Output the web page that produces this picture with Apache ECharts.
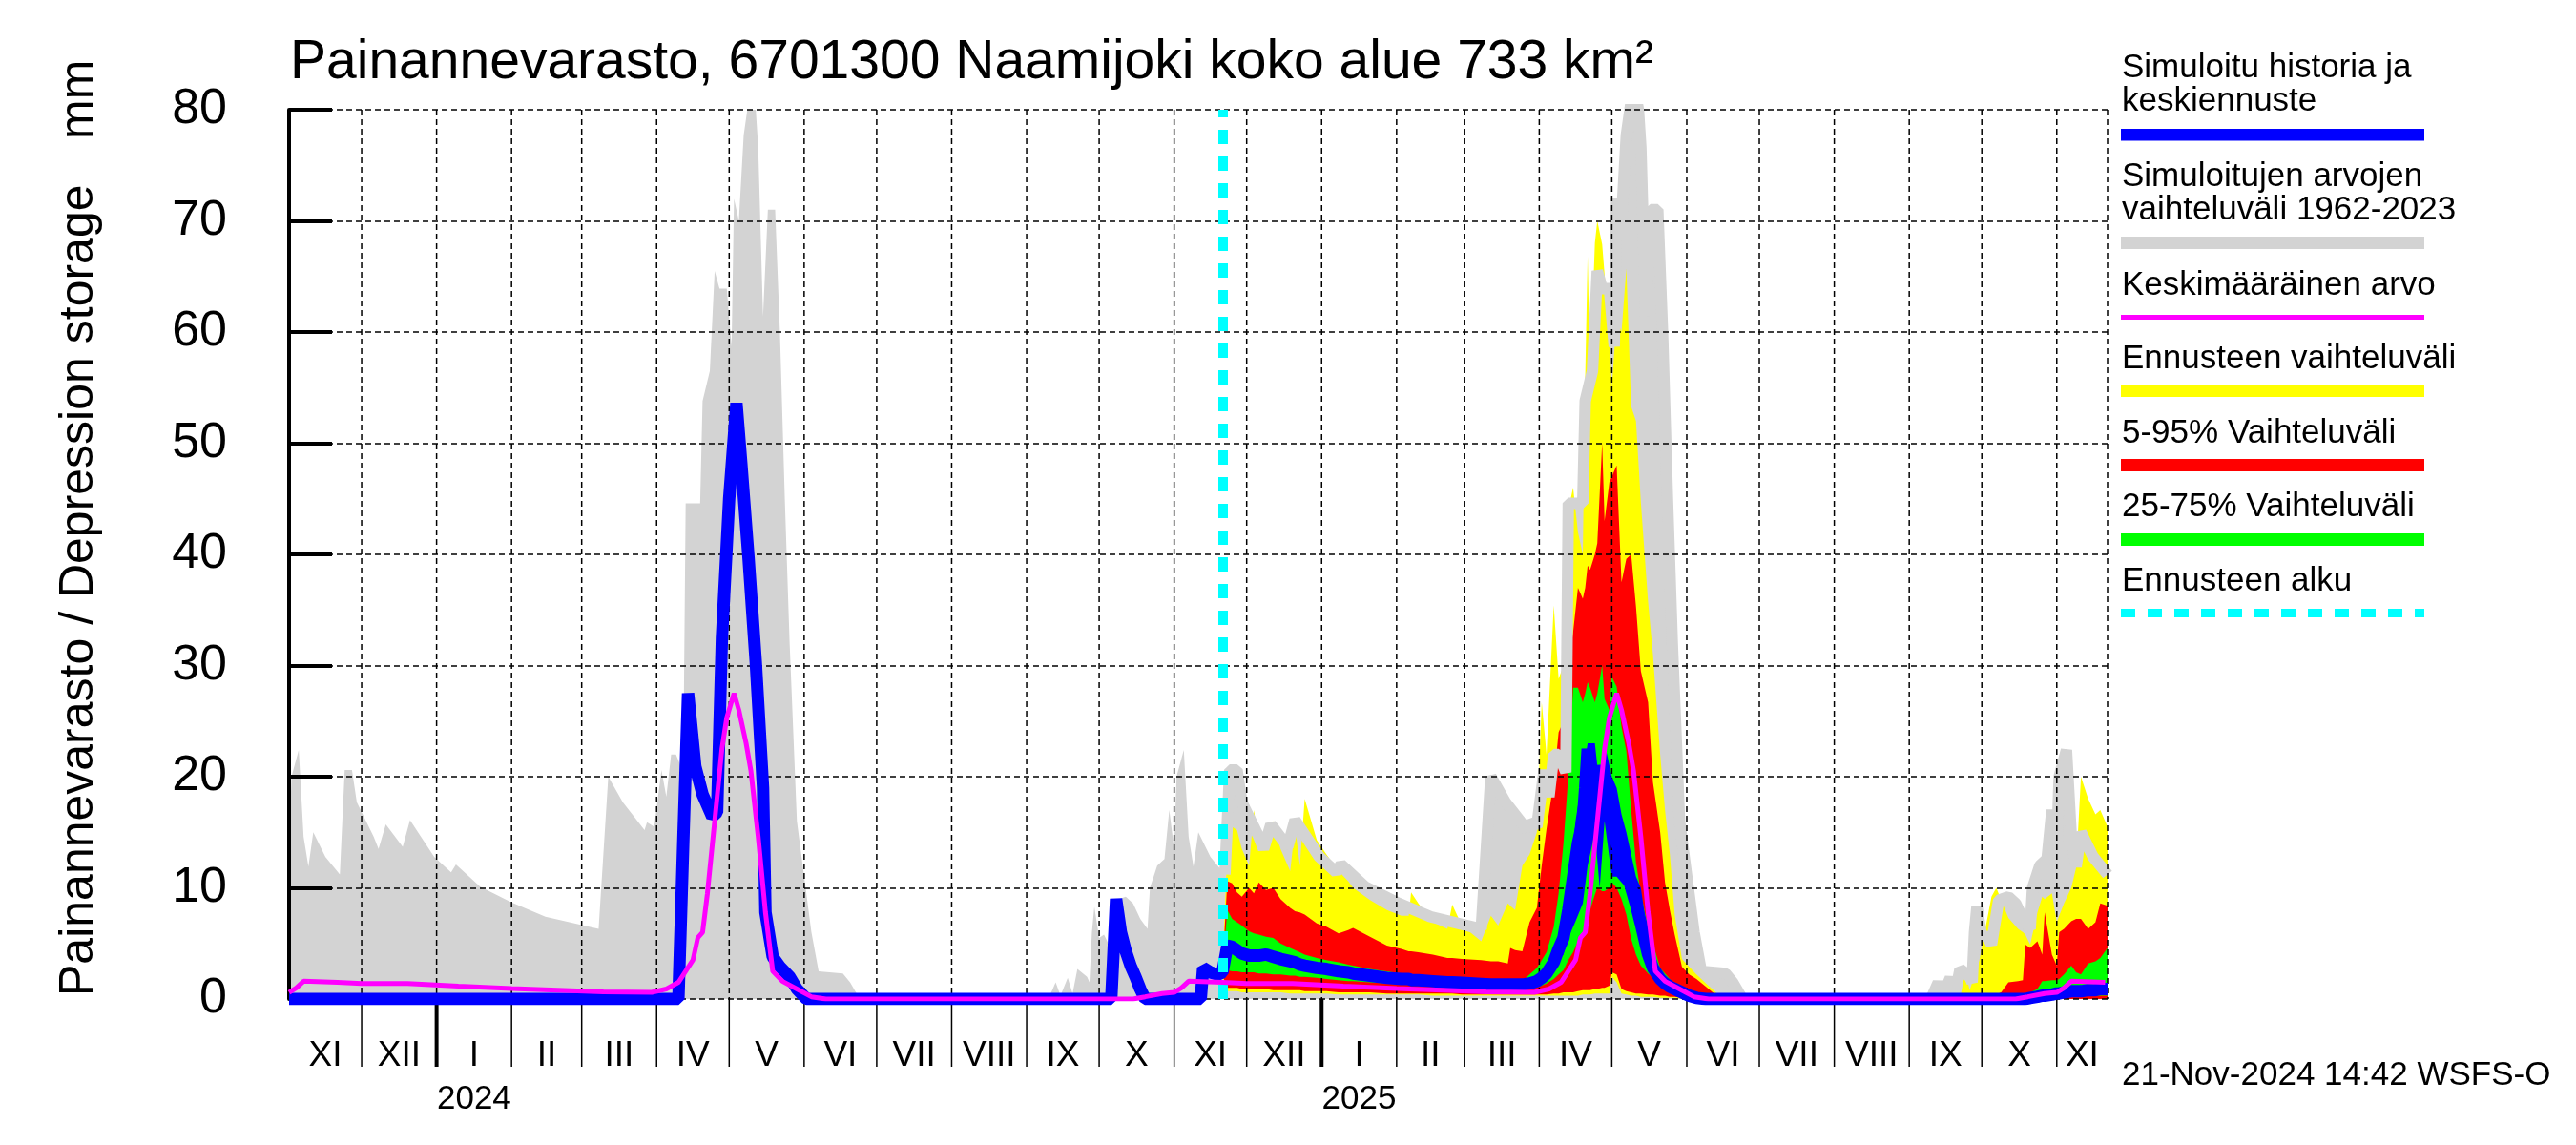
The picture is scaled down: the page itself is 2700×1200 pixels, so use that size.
<!DOCTYPE html>
<html>
<head>
<meta charset="utf-8">
<script src="https://cdn.jsdelivr.net/npm/echarts@6/dist/echarts.min.js"></script>
<style>html,body{margin:0;padding:0;background:#fff}#c{width:2700px;height:1200px}</style>
</head>
<body>
<div id="c"></div>
<script>
// ---------------- DATA ----------------
const X_MIN = '2023-11-01';
const X_MAX = '2025-11-22';
const FORECAST_START = '2024-11-21';
const Y_MAX = 80;

// Climatology 1962-2023: max of simulated values (grey band), by month-day
const grayDays = ['11-01','11-02','11-05','11-07','11-09','11-11','11-16','11-22','11-24','11-27','11-29','12-06','12-08','12-11','12-18','12-21','12-31','01-07','01-09','01-19','02-01','02-15','03-08','03-12','03-18','03-27','03-28','03-31','04-03','04-05','04-07','04-09','04-12','04-13','04-19','04-20','04-23','04-25','04-27','04-30','05-02','05-03','05-05','05-07','05-10','05-12','05-13','05-15','05-17','05-20','05-22','05-24','05-26','05-29','06-01','06-04','06-07','06-17','06-20','06-24','09-10','09-13','09-15','09-18','09-20','09-22','09-26','09-27','09-28','09-29','10-01','10-03','10-05','10-08','10-12','10-15','10-18','10-21','10-22','10-25','10-28','10-30'];
const grayMax = [13.5,20,22.4,14.6,11.9,15,12.8,11.2,20.6,20.6,17.7,14.6,13.5,15.7,13.7,16.1,12.8,11.4,12.1,10.1,8.7,7.4,6.3,20,17.7,15.2,15.9,15.5,20.6,18.2,22,22,20.4,44.6,44.6,53.8,56.5,65.5,63.9,63.9,58.7,72,70,77.7,82.3,80,76.6,61.4,71,71,59.8,45,32,16,11,6,2.5,2.3,1.5,0,0,1.5,0.3,1.9,0.5,2.7,2.0,1.5,6,8.3,5.5,5.8,4.9,8.9,9.2,8.6,7.2,6.3,10,12,12.6,17];

// Climatology mean (magenta), by month-day
const meanDays = ['10-15','10-20','10-27','11-01','11-04','11-07','11-21','12-01','12-20','01-10','02-01','02-20','03-10','03-30','04-05','04-10','04-13','04-16','04-18','04-20','04-22','04-25','04-28','04-30','05-03','05-05','05-08','05-10','05-13','05-16','05-19','05-23','05-29','06-04','06-10'];
const meanVals = [0,0.2,0.5,0.6,1.0,1.6,1.5,1.4,1.4,1.15,0.95,0.8,0.65,0.6,0.9,1.5,2.5,3.5,5.5,6,9.5,16,22.5,25.3,27.5,26,23,20.5,14.6,7.8,2.5,1.6,0.9,0.2,0];

// Simulated history (blue)
const hDates = ['2023-11-01','2024-04-10','2024-04-12','2024-04-14','2024-04-17','2024-04-20','2024-04-24','2024-04-26','2024-04-28','2024-05-01','2024-05-04','2024-05-06','2024-05-09','2024-05-12','2024-05-15','2024-05-16','2024-05-19','2024-05-22','2024-05-26','2024-05-29','2024-06-02','2024-10-06','2024-10-08','2024-10-10','2024-10-12','2024-10-14','2024-10-16','2024-10-18','2024-10-20','2024-11-12','2024-11-13','2024-11-16','2024-11-19','2024-11-21'];
const hVals = [0,0,14,27.5,20.9,18.4,16.4,16.8,32.5,45,53.6,48.2,39.7,30.3,19,7.8,3.8,2.9,2.0,0.9,0,0,9.0,6.0,4.3,3.0,2.0,0.9,0,0,2.8,2.4,2.2,2.4];

// Forecast ensemble
const fDates = ['2024-11-21','2024-11-23','2024-11-25','2024-11-27','2024-11-29','2024-12-02','2024-12-04','2024-12-06','2024-12-09','2024-12-12','2024-12-15','2024-12-19','2024-12-21','2024-12-23','2024-12-25','2024-12-30','2025-01-03','2025-01-08','2025-01-12','2025-01-14','2025-01-21','2025-01-28','2025-02-03','2025-02-06','2025-02-07','2025-02-10','2025-02-16','2025-02-22','2025-02-24','2025-02-28','2025-03-08','2025-03-12','2025-03-15','2025-03-19','2025-03-20','2025-03-22','2025-03-25','2025-03-28','2025-03-31','2025-04-02','2025-04-04','2025-04-07','2025-04-09','2025-04-11','2025-04-13','2025-04-15','2025-04-17','2025-04-19','2025-04-20','2025-04-21','2025-04-22','2025-04-24','2025-04-25','2025-04-27','2025-04-28','2025-04-30','2025-05-01','2025-05-03','2025-05-05','2025-05-07','2025-05-09','2025-05-11','2025-05-13','2025-05-16','2025-05-18','2025-05-21','2025-05-23','2025-05-25','2025-05-27','2025-05-30','2025-06-02','2025-06-05','2025-06-09','2025-06-14','2025-06-18','2025-09-18','2025-09-20','2025-09-24','2025-09-26','2025-09-30','2025-10-02','2025-10-05','2025-10-07','2025-10-09','2025-10-12','2025-10-16','2025-10-18','2025-10-19','2025-10-21','2025-10-24','2025-10-26','2025-10-27','2025-10-30','2025-11-01','2025-11-02','2025-11-04','2025-11-07','2025-11-09','2025-11-11','2025-11-14','2025-11-17','2025-11-19','2025-11-22'];
const fMin = [2.0,0.7,0.7,0.7,0.6,0.6,0.6,0.6,0.6,0.6, 0.6,0.5,0.5,0.5,0.5,0.5,0.5,0.4,0.4,0.4, 0.4,0.4,0.4,0.4,0.4,0.4,0.3,0.3,0.3,0.3, 0.3,0.3,0.3,0.3,0.3,0.3,0.3,0.3,0.3,0.3, 0.3,0.3,0.3,0.3,0.3,0.3,0.3,0.4,0.4,0.4, 0.4,0.5,0.5,0.5,0.5,0.5,2.0,1.5,0.5,0.4, 0.3,0.3,0.2,0.2,0.2,0.1,0.1,0.1,0.1,0, 0,0,0,0,0,0,0,0,0,0, 0,0,0,0,0,0,0,0,0,0, 0,0,0,0,0,0,0,0,0,0, 0,0,0];
const fP5  = [2.1,1.0,1.0,1.0,0.9,0.9,0.9,0.9,0.9,0.8, 0.8,0.8,0.8,0.8,0.7,0.7,0.7,0.6,0.6,0.6, 0.6,0.5,0.5,0.5,0.5,0.5,0.5,0.5,0.5,0.4, 0.4,0.4,0.4,0.4,0.4,0.4,0.4,0.4,0.4,0.4, 0.4,0.5,0.5,0.6,0.6,0.6,0.7,0.8,0.8,0.8, 0.8,0.9,0.9,1.0,1.0,1.2,2.4,2.2,0.9,0.7, 0.6,0.5,0.5,0.4,0.4,0.3,0.3,0.2,0.2,0.1, 0,0,0,0,0,0,0,0,0,0, 0,0,0,0,0,0,0,0,0,0, 0,0,0,0,0,0,0,0,0,0, 0,0,0];
const fP25 = [2.2,2.6,2.5,2.5,2.4,2.4,2.4,2.3,2.3,2.2, 2.2,2.1,2.1,2.0,2.0,1.9,1.8,1.7,1.6,1.6, 1.5,1.4,1.3,1.3,1.3,1.2,1.2,1.1,1.1,1.0, 0.9,0.9,0.9,0.9,0.9,0.9,0.9,1.0,1.1,1.2, 1.4,1.8,2.2,2.6,3.5,4.2,5.2,6.0,6.5,7.0, 8.0,9.4,10.0,9.7,9.7,10.0,10.5,10.0,9.0,7.6, 5.4,4.0,3.0,2.3,1.9,1.5,1.2,1.0,0.8,0.5, 0.3,0.1,0,0,0,0,0,0,0,0, 0,0,0,0,0,0,0,0,0,0, 0.1,0.1,0.1,0.2,0.2,0.2,0.2,0.3,0.3,0.3, 0.3,0.3,0.3];
const fMed = [2.4,4.8,4.7,4.4,4.1,3.9,3.9,3.9,4.0,3.8, 3.6,3.4,3.3,3.1,3.0,2.8,2.7,2.5,2.4,2.3, 2.1,1.9,1.8,1.8,1.7,1.7,1.6,1.5,1.5,1.45, 1.35,1.3,1.3,1.3,1.3,1.3,1.3,1.4,1.6,1.9, 2.3,3.3,4.5,5.5,8.0,11.0,14.0,16.0,19.0,22.5, 20.0,17.0,16.0,21.0,20.0,19.0,16.0,14.0,13.0,12.0, 10.0,8.5,6.8,4.0,2.8,1.8,1.4,1.1,0.9,0.6, 0.3,0.1,0,0,0,0,0,0,0,0, 0,0,0,0,0,0,0,0,0.1,0.2, 0.3,0.3,0.4,0.5,0.5,0.6,0.7,0.7,0.7,0.8, 0.8,0.9,0.9];
const fP75 = [2.6,8.0,7.2,6.9,6.6,6.1,5.9,5.8,5.6,5.5, 5.0,4.6,4.4,4.2,4.0,3.7,3.5,3.3,3.1,3.0, 2.7,2.5,2.3,2.2,2.2,2.1,2.0,1.9,1.9,1.85, 1.75,1.7,1.65,1.6,1.6,1.6,1.6,2.2,2.8,3.5, 4.2,6.5,9.5,14.0,20.0,28.0,28.0,26.7,27.5,28.5, 28.0,26.7,27.5,30.0,27.0,26.0,29.0,28.1,24.5,22.3, 17.0,12.3,9.5,6.5,5.0,2.8,2.3,1.8,1.4,1.0, 0.7,0.5,0.2,0,0,0,0,0,0,0, 0,0,0,0,0,0,0,0.3,0.6,0.9, 1.6,1.6,1.7,1.7,1.8,2.2,3.0,2.4,2.2,3.2, 3.4,3.7,4.6];
const fP95 = [2.8,10.6,10.4,9.6,9.2,10.0,9.5,10.5,9.8,10.0, 9.0,8.2,7.9,7.8,7.6,6.8,6.5,5.9,6.2,6.4, 5.6,4.8,4.5,4.3,4.3,4.2,4.0,3.7,3.7,3.6, 3.5,3.4,3.4,3.2,4.6,4.4,4.3,6.9,8.2,12.0, 15.3,19.6,24.0,25.0,30.0,33.0,37.0,36.0,37.0,39.0, 38.6,40.0,41.0,50.0,43.0,46.5,47.0,48.0,37.5,39.6, 40.0,35.3,29.5,26.7,19.5,15.0,10.5,8.0,5.8,2.9, 2.2,1.8,1.1,0.2,0,0,0,0,0,0, 0.1,0.2,0.4,0.6,1.5,1.6,1.7,4.9,4.6,5.2, 4.0,7.8,4.0,3.0,6.0,6.3,7.0,7.2,7.2,6.3, 6.9,8.6,8.4];
const fMax = [3.0,13.5,15.5,15.2,13.5,12.0,17.0,14.0,13.5,16.0, 13.5,11.5,15.5,12.0,18.0,14.3,13.0,11.5,10.6,10.0, 8.9,8.0,7.5,7.5,9.6,8.6,6.9,6.3,8.5,6.6, 5.2,7.5,6.6,8.6,8.4,8.0,12.0,13.0,15.0,26.7, 22.0,35.4,28.8,30.0,44.0,46.0,42.0,40.0,56.0,66.8, 56.0,68.0,70.0,67.9,65.2,60.0,55.0,61.4,60.0,65.7, 53.3,52.0,44.7,35.7,31.0,22.0,17.0,13.0,7.6,3.6, 2.9,2.2,1.4,0.4,0,0,1.2,2.6,0.8,3.5, 5.8,9.2,10.0,8.9,7.3,6.3,6.0,5.8,4.9,7.8, 9.2,9.0,9.5,6.9,7.5,8.6,10.0,11.8,20.0,18.0, 16.6,17.0,15.5];

// Spread of the median forecast during the spring flood (drawn blue)
const bDates = ['2025-04-07','2025-04-09','2025-04-11','2025-04-13','2025-04-16','2025-04-19','2025-04-21','2025-04-24','2025-04-26','2025-04-28','2025-05-01','2025-05-03','2025-05-05','2025-05-07','2025-05-09','2025-05-11','2025-05-13','2025-05-15','2025-05-17','2025-05-21','2025-05-25','2025-05-29','2025-06-02'];
const bLo = [3.0,3.5,4.0,5.5,7.0,8.6,12.0,15.0,10.0,16.0,11.0,11.0,10.5,10.0,9.0,7.0,5.0,3.5,2.5,1.3,0.8,0.4,0.0];
const bHi = [3.6,5.5,7.0,10.0,16.0,20.2,23.0,23.0,19.0,23.0,20.0,19.0,16.6,15.0,13.0,11.0,10.0,7.0,5.0,2.5,1.6,1.0,0.4];

// Axis tick labels
const romans = ['I','II','III','IV','V','VI','VII','VIII','IX','X','XI','XII'];
const yearLabels = ['2024','2025'];

// Texts
const TITLE = 'Painannevarasto, 6701300 Naamijoki koko alue 733 km²';
const Y_NAME = 'Painannevarasto / Depression storage';
const Y_UNIT = 'mm';
const FOOTER = '21-Nov-2024 14:42 WSFS-O';
const LEGEND = [
  {lines:['Simuloitu historia ja','keskiennuste'], color:'#0000ff'},
  {lines:['Simuloitujen arvojen','vaihteluväli 1962-2023'], color:'#d3d3d3'},
  {lines:['Keskimääräinen arvo'], color:'#ff00ff'},
  {lines:['Ennusteen vaihteluväli'], color:'#ffff00'},
  {lines:['5-95% Vaihteluväli'], color:'#ff0000'},
  {lines:['25-75% Vaihteluväli'], color:'#00ff00'},
  {lines:['Ennusteen alku'], color:'#00ffff'}
];

// ---------------- BUILD ----------------
const FONT = '"Liberation Sans", Arial, Helvetica, sans-serif';

function expandClim(days, vals) {
  const out = [];
  [2022, 2023, 2024, 2025].forEach(function (y) {
    days.forEach(function (md, i) {
      const m = +md.slice(0, 2);
      const d = (m >= 11 ? y : y + 1) + '-' + md;
      if (d >= X_MIN && d <= X_MAX) out.push([d, vals[i]]);
    });
  });
  out.sort(function (a, b) { return a[0] < b[0] ? -1 : a[0] > b[0] ? 1 : 0; });
  return out;
}
const grayData = expandClim(grayDays, grayMax);
const grayFcData = grayData.filter(function (p) { return p[0] >= FORECAST_START; });
const meanData = expandClim(meanDays, meanVals);
const blueData = hDates.map(function (d, i) { return [d, hVals[i]]; })
  .concat(fDates.slice(1).map(function (d, i) { return [d, fMed[i + 1]]; }));

function band(id, dates, lo, hi, color) {
  return [
    {type:'line', stack:id, data:dates.map(function (d, i) { return [d, lo[i]]; }),
     symbol:'none', lineStyle:{width:0, opacity:0}, z:2, silent:true},
    {type:'line', stack:id, data:dates.map(function (d, i) { return [d, hi[i] - lo[i]]; }),
     symbol:'none', lineStyle:{width:0, opacity:0}, areaStyle:{color:color, opacity:1}, z:2, silent:true}
  ];
}

// month ticks
function parseD(s) { const p = s.split('-'); return new Date(+p[0], +p[1] - 1, +p[2]).getTime(); }
const monthData = [], monthLabels = [], monthYear = [];
(function () {
  let y = 2023, m = 10; // November (0-based)
  const end = parseD(X_MAX);
  let yi = 0;
  while (new Date(y, m, 1).getTime() < end) {
    const s = new Date(y, m, 1).getTime();
    let ny = y, nm = m + 1; if (nm > 11) { nm = 0; ny++; }
    const e = Math.min(new Date(ny, nm, 1).getTime(), end);
    monthData.push([s, e, monthLabels.length]);
    monthLabels.push(romans[m]);
    monthYear.push(m === 0 ? yearLabels[yi++] : '');
    y = ny; m = nm;
  }
})();

const monthSeries = {
  type:'custom', z:3, silent:true, clip:false,
  data: monthData, encode:{x:[0,1]},
  renderItem: function (params, api) {
    const i = api.value(2);
    const s = api.coord([api.value(0), 0]);
    const e = api.coord([api.value(1), 0]);
    const t = api.coord([api.value(0), Y_MAX]);
    const lab = monthLabels[i];
    const isJan = lab === 'I';
    const kids = [];
    if (i > 0) {
      kids.push({type:'line', shape:{x1:s[0], y1:t[1], x2:s[0], y2:s[1]}, style:{stroke:'#000', lineWidth:1.5, lineDash:[6,4]}});
      kids.push({type:'line', shape:{x1:s[0], y1:s[1], x2:s[0], y2:s[1] + 71}, style:{stroke:'#000', lineWidth:isJan ? 4 : 1.5}});
    }
    if (i === monthLabels.length - 1) {
      kids.push({type:'line', shape:{x1:e[0], y1:t[1], x2:e[0], y2:e[1]}, style:{stroke:'#000', lineWidth:1.5, lineDash:[6,4]}});
    }
    kids.push({type:'text', x:(s[0] + e[0]) / 2, y:s[1] + 60,
      style:{text:lab, fontSize:37, fontFamily:FONT, fill:'#000', align:'center', verticalAlign:'middle', textAlign:'center', textVerticalAlign:'middle'}});
    if (isJan) {
      kids.push({type:'text', x:(s[0] + e[0]) / 2, y:s[1] + 105,
        style:{text:monthYear[i], fontSize:35, fontFamily:FONT, fill:'#000', align:'center', verticalAlign:'middle', textAlign:'center', textVerticalAlign:'middle'}});
    }
    return {type:'group', children:kids};
  }
};

// graphics: title, axis name, footer, legend
function txt(x, y, text, size, extra) {
  const o = {type:'text', x:x, y:y, style:{text:text, fontSize:size, fontFamily:FONT, fill:'#000',
    align:'left', verticalAlign:'middle', textAlign:'left', textVerticalAlign:'middle'}};
  if (extra) Object.assign(o, extra);
  return o;
}
const graphics = [
  txt(304, 66, TITLE, 57),
  txt(83, 1044, Y_NAME, 50, {rotation: Math.PI / 2}),
  txt(83, 146, Y_UNIT, 50, {rotation: Math.PI / 2}),
  txt(2224, 1127, FOOTER, 35)
];
const legendLayout = [
  {textY:[71,106], barY:135, barH:12.5},
  {textY:[185,220], barY:248, barH:13},
  {textY:[299], barY:330, barH:5},
  {textY:[376], barY:403.5, barH:12.5},
  {textY:[454], barY:481, barH:13},
  {textY:[531.5], barY:559, barH:13},
  {textY:[609], barY:642.5, barH:9}
];
LEGEND.forEach(function (it, k) {
  const L = legendLayout[k];
  it.lines.forEach(function (ln, j) { graphics.push(txt(2224, L.textY[j], ln, 35)); });
  if (k === LEGEND.length - 1) {
    graphics.push({type:'line', shape:{x1:2223, y1:L.barY, x2:2541, y2:L.barY}, style:{stroke:it.color, lineWidth:L.barH, lineDash:[15,13]}});
  } else {
    graphics.push({type:'rect', shape:{x:2223, y:L.barY, width:318, height:L.barH}, style:{fill:it.color}});
  }
});

const series = [].concat(
  [{type:'line', data:grayData, symbol:'none', lineStyle:{width:0, opacity:0}, areaStyle:{color:'#d3d3d3', opacity:1}, z:2, silent:true}],
  band('yel', fDates, fMin, fMax, '#ffff00'),
  [{type:'line', data:grayFcData, symbol:'none', lineStyle:{width:12, color:'#d3d3d3'}, z:2, silent:true}],
  band('red', fDates, fP5, fP95, '#ff0000'),
  band('grn', fDates, fP25, fP75, '#00ff00'),
  band('blu', bDates, bLo, bHi, '#0000ff'),
  [monthSeries,
   {type:'line', data:blueData, symbol:'none', lineStyle:{width:13, color:'#0000ff'}, z:4, silent:true},
   {type:'line', data:[], symbol:'none', z:5, silent:true,
    markLine:{silent:true, symbol:['none','none'], label:{show:false}, animation:false,
      lineStyle:{color:'#00ffff', width:10, type:[15,13], opacity:1},
      emphasis:{disabled:true},
      data:[{xAxis:FORECAST_START}]}},
   {type:'line', data:meanData, symbol:'none', lineStyle:{width:5, color:'#ff00ff'}, z:6, silent:true}]
);

const option = {
  animation:false,
  backgroundColor:'#fff',
  textStyle:{fontFamily:FONT},
  grid:{left:303, top:115, width:1906, height:932, containLabel:false, outerBoundsMode:'none'},
  xAxis:{type:'time', min:X_MIN, max:X_MAX,
    axisLine:{show:false}, axisTick:{show:false}, axisLabel:{show:false}, splitLine:{show:false}},
  yAxis:{type:'value', min:0, max:Y_MAX, interval:10, z:3,
    axisLine:{show:true, lineStyle:{color:'#000', width:4}},
    axisTick:{show:true, inside:true, length:45, lineStyle:{color:'#000', width:4}},
    axisLabel:{fontSize:52, color:'#000', fontFamily:FONT, margin:65},
    splitLine:{show:true, lineStyle:{color:'#000', width:1.5, type:[6,4]}}},
  graphic:graphics,
  series:series
};
const chart = echarts.init(document.getElementById('c'), null, {renderer:'canvas'});
chart.setOption(option);
</script>
</body>
</html>
